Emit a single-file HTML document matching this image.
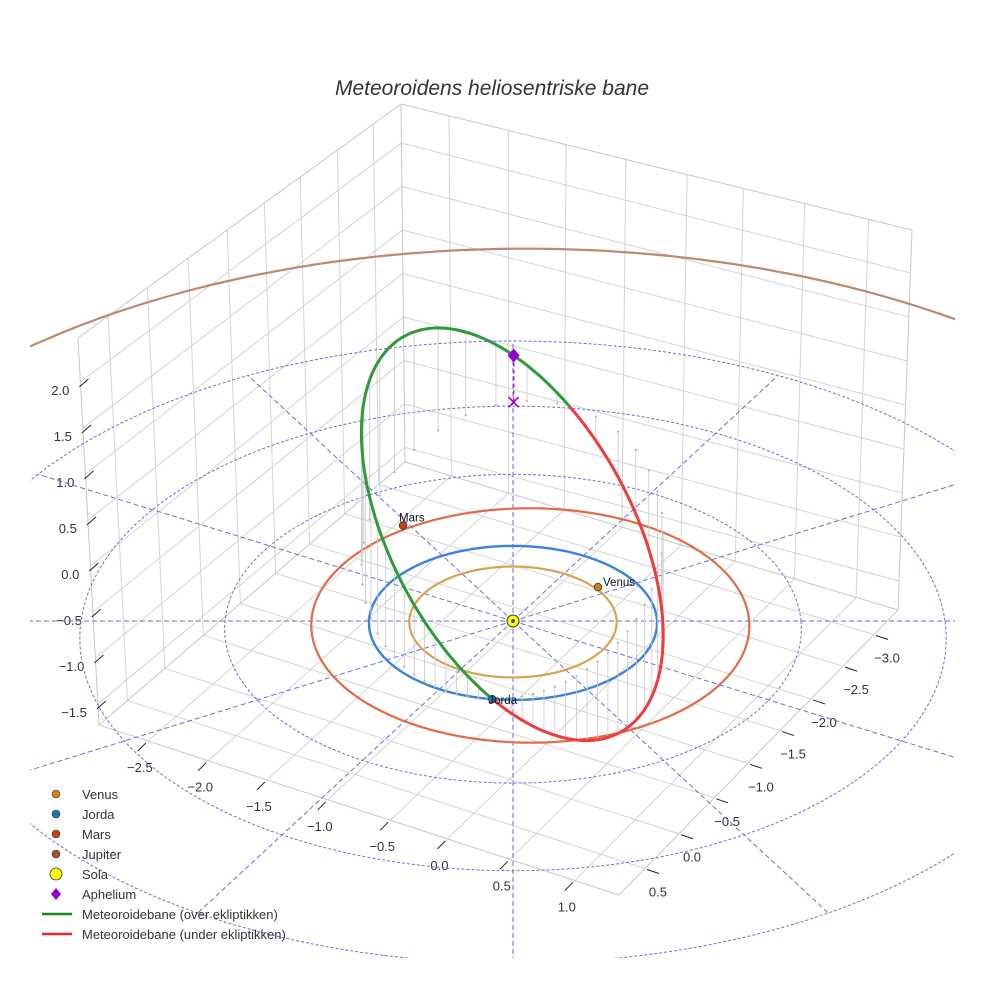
<!DOCTYPE html>
<html><head><meta charset="utf-8">
<style>
html,body{margin:0;padding:0;background:#fff;width:984px;height:984px;overflow:hidden;}
svg{display:block;font-family:"Liberation Sans",sans-serif;}
</style></head>
<body>
<svg id="chart" width="984" height="984" viewBox="0 0 984 984" xmlns="http://www.w3.org/2000/svg">
<rect width="984" height="984" fill="#fff"/>
<text x="492" y="95" text-anchor="middle" font-size="21" font-style="italic" fill="#333">Meteoroidens heliosentriske bane</text>
<defs><clipPath id="clip"><rect x="30" y="0" width="925" height="958"/></clipPath></defs>
<g id="box"></g>
<g id="ticks"></g>
<g id="plot" clip-path="url(#clip)"></g>
<g id="legend"></g>
</svg>
<script>
// ---- data ----
const xTickLabels=['−2.5','−2.0','−1.5','−1.0','−0.5','0.0','0.5','1.0'];
const yTickLabels=['−3.0','−2.5','−2.0','−1.5','−1.0','−0.5','0.0','0.5'];
const zTickLabels=['2.0','1.5','1.0','0.5','0.0','−0.5','−1.0','−1.5'];
const planetNames=['Venus','Jorda','Mars'];
const planetX=[0.597,-0.14,-0.788];
const planetY=[0.446,-0.99,1.28];
const planetColors=['#c8820e','#1f77b4','#c8400c'];
const orbitNames=['Venus','Jorda','Mars','Jupiter'];
const orbitRadii=[0.72,1.0,1.52,5.3];
const orbitCenterX=[0,0,0.12,0.1];
const orbitCenterY=[0,0,0,0.2];
const orbitColors=['#d8a24e','#3b82dc','#e36a48','#bc8a6e'];
const gridRings=[2,3,4];
const gridAngles=[0,30,60,90,120,150,180,210,240,270,300,330];
const meteorA=[2.05];
const meteorE=[0.517];
const meteorIncl=[53];
const meteorNodeAngle=[82];
const meteorAphelionAngle=[13];

const NS='http://www.w3.org/2000/svg';
const C=0.025;
function proj(x,y,z){const f=1/(1+C*y);return [513+144*x*f,621-77*y*f-90*z*f];}
function mk(tag,attrs,parent){const e=document.createElementNS(NS,tag);for(const k in attrs)e.setAttribute(k,attrs[k]);parent.appendChild(e);return e;}
const box=document.getElementById('box'),ticks=document.getElementById('ticks'),plot=document.getElementById('plot'),legend=document.getElementById('legend');

// ---- box geometry ----
const Bt=[401,104],Bb=[405,462],Lt=[78,338],Lb=[99,725],Rt=[912,230],Rb=[898,610],Fb=[619,895];
function lerp(a,b,t){return [a[0]+(b[0]-a[0])*t,a[1]+(b[1]-a[1])*t];}
function ln(a,b,col,w,parent,name){const e=mk('line',{x1:a[0],y1:a[1],x2:b[0],y2:b[1],stroke:col,'stroke-width':w},parent);

return e;}
const gc='#d4d4d4';
const xT=[0.094,0.21,0.323,0.44,0.56,0.67,0.79,0.915];
const yT=[0.086,0.197,0.312,0.423,0.538,0.659,0.785,0.907];
for(let k=0;k<8;k++){
  const yb=143+43.5*k, yl=382+46*k, yr=273+44*k;
  const bx=401+ (yb-104)/(358)*4;
  ln([bx,yb],[78+(yl-338)/387*21,yl],gc,1,box,'left-wall-z-grid');
  ln([bx,yb],[912-(yr-230)/380*14,yr],gc,1,box,'right-wall-z-grid');
}
xT.forEach(t=>{ln(lerp(Bt,Rt,t),lerp(Bb,Rb,t),gc,1,box,'right-wall-x-grid');});
yT.forEach(t=>{ln(lerp(Bt,Lt,t),lerp(Bb,Lb,t),gc,1,box,'left-wall-y-grid');});
xT.forEach(t=>{ln(lerp(Lb,Fb,t),lerp(Bb,Rb,t),gc,1,box,'floor-x-grid');});
yT.forEach(t=>{ln(lerp(Rb,Fb,t),lerp(Bb,Lb,t),gc,1,box,'floor-y-grid');});
[[Bt,Lt],[Bt,Rt],[Bt,Bb],[Lt,Lb],[Rt,Rb],[Lb,Fb],[Rb,Fb],[Bb,Lb],[Bb,Rb]].forEach(p=>ln(p[0],p[1],'#c8c8c8',1,box,'box-edge'));
// ticks
xT.forEach((t,i)=>{const p=lerp(Lb,Fb,t);ln([p[0]-2,p[1]+2],[p[0]-10,p[1]+10],'#222',1,ticks,'x-tick');
 const tx=mk('text',{x:p[0]-8,y:p[1]+31,'text-anchor':'middle','font-size':13,fill:'#333'},ticks);tx.textContent=xTickLabels[i];
 
 });
yT.forEach((t,i)=>{const p=lerp(Rb,Fb,t);ln([p[0]+2,p[1]+1],[p[0]+14,p[1]+5],'#222',1,ticks,'y-tick');
 const tx=mk('text',{x:p[0]+13,y:p[1]+28,'text-anchor':'middle','font-size':13,fill:'#333'},ticks);tx.textContent=yTickLabels[i];
 
 });
zTickLabels.forEach((s,k)=>{const yl=382+46*k;const xl=78+(yl-338)/387*21;
 ln([xl-1,yl+5],[xl+8,yl-3],'#222',1,ticks,'z-tick');
 const tx=mk('text',{x:xl-11,y:yl+13,'text-anchor':'end','font-size':13,fill:'#333'},ticks);tx.textContent=s;
 
 });

// ---- ecliptic grid ----
function pathFrom(pts){return 'M'+pts.map(p=>p[0].toFixed(1)+','+p[1].toFixed(1)).join('L');}
gridRings.forEach(r=>{const pts=[];for(let a=0;a<=360;a+=2){const t=a*Math.PI/180;pts.push(proj(r*Math.cos(t),r*Math.sin(t),0));}
 const e=mk('path',{d:pathFrom(pts),fill:'none',stroke:'#6b6bec','stroke-width':1,'stroke-dasharray':'3,2'},plot);
 
 });
gridAngles.forEach(a=>{const t=a*Math.PI/180;const p=[];for(let r=0;r<=4.001;r+=0.25)p.push(proj(r*Math.cos(t),r*Math.sin(t),0));
 const e=mk('path',{d:pathFrom(p),fill:'none',stroke:'#6b6bec','stroke-width':1,'stroke-dasharray':'5,3'},plot);
 
 });

// ---- planet orbits ----
orbitRadii.forEach((r,i)=>{const pts=[];for(let a=0;a<=360;a+=1){const t=a*Math.PI/180;pts.push(proj(orbitCenterX[i]+r*Math.cos(t),orbitCenterY[i]+r*Math.sin(t),0));}
 const e=mk('path',{d:pathFrom(pts),fill:'none',stroke:orbitColors[i],'stroke-width':i==1?2.4:2.2},plot);
 
 });

// ---- meteoroid orbit ----
const a=meteorA[0],ecc=meteorE[0],inc=meteorIncl[0]*Math.PI/180,na=meteorNodeAngle[0]*Math.PI/180,phA=meteorAphelionAngle[0];
const n=[Math.cos(na),Math.sin(na),0];
const m=[-Math.sin(na)*Math.cos(inc),Math.cos(na)*Math.cos(inc),Math.sin(inc)];
const ell=a*(1-ecc*ecc);
function orbitPt(phDeg){const nu=(phDeg-(phA+180))*Math.PI/180;const r=ell/(1+ecc*Math.cos(nu));const ph=phDeg*Math.PI/180;
 const p=r*Math.cos(ph),s=r*Math.sin(ph);return [p*n[0]+s*m[0],p*n[1]+s*m[1],s*m[2]];}
for(let ph=3;ph<360;ph+=7){const q=orbitPt(ph);const a1=proj(q[0],q[1],q[2]),a0=proj(q[0],q[1],0);
 ln(a1,a0,'#c8c8c8',0.8,plot,'drop-line');
 const d=mk('circle',{cx:a0[0],cy:a0[1],r:1.2,fill:'#bbb'},plot);
 
 }
const above=[],below=[];
for(let ph=0;ph<=180;ph+=1){const q=orbitPt(ph);above.push(proj(q[0],q[1],q[2]));}
for(let ph=180;ph<=360;ph+=1){const q=orbitPt(ph);below.push(proj(q[0],q[1],q[2]));}
let e1=mk('path',{d:pathFrom(below),fill:'none',stroke:'#ef3b3b','stroke-width':3},plot);


let e2=mk('path',{d:pathFrom(above),fill:'none',stroke:'#2f9a3a','stroke-width':3},plot);



const aq=orbitPt(phA);const ap=proj(aq[0],aq[1],aq[2]),ap0=proj(aq[0],aq[1],0);
const dl=mk('line',{x1:ap[0],y1:ap[1],x2:ap0[0],y2:ap0[1],stroke:'#9b1fc0','stroke-width':1.5,'stroke-dasharray':'4,3'},plot);


const xm=mk('path',{d:`M${ap0[0]-5},${ap0[1]-5}L${ap0[0]+5},${ap0[1]+5}M${ap0[0]+5},${ap0[1]-5}L${ap0[0]-5},${ap0[1]+5}`,stroke:'#9400d3','stroke-width':1.5},plot);


const dm=mk('path',{d:`M${ap[0]},${ap[1]-7}L${ap[0]+6},${ap[1]}L${ap[0]},${ap[1]+7}L${ap[0]-6},${ap[1]}Z`,fill:'#9400d3'},plot);



const sp=proj(0,0,0);
const sun=mk('circle',{cx:sp[0],cy:sp[1],r:6,fill:'#ffff00',stroke:'#333','stroke-width':1},plot);


const sc=mk('circle',{cx:sp[0],cy:sp[1],r:2,fill:'#4a4ad0'},plot);



planetNames.forEach((nm,i)=>{const p=proj(planetX[i],planetY[i],0);
 const c=mk('circle',{cx:p[0],cy:p[1],r:3.8,fill:planetColors[i],stroke:'#333','stroke-width':0.8},plot);
 
 
 const t=mk('text',{x:p[0]+(i==0?5:-4),y:p[1]+(i==0?-1:(i==1?5:-4)),'font-size':11.5,fill:'#111'},plot);t.textContent=nm;
 
 });

// ---- legend ----
const legNames=['Venus','Jorda','Mars','Jupiter','Sola','Aphelium','Meteoroidebane (over ekliptikken)','Meteoroidebane (under ekliptikken)'];
const legColors=['#c8820e','#1f77b4','#c8400c','#a0522d','#ffff00','#9400d3','#1a8a1a','#ee2222'];
legNames.forEach((nm,i)=>{const y=794+20*i;const g=mk('g',{},legend);
 
 
 if(i<4) mk('circle',{cx:56,cy:y,r:4,fill:legColors[i],stroke:'#333','stroke-width':0.6},g);
 else if(i==4) mk('circle',{cx:56,cy:y,r:6,fill:legColors[i],stroke:'#333','stroke-width':0.8},g);
 else if(i==5) mk('path',{d:`M56,${y-6}L61,${y}L56,${y+6}L51,${y}Z`,fill:legColors[i]},g);
 else mk('line',{x1:42,y1:y,x2:72,y2:y,stroke:legColors[i],'stroke-width':2.5},g);
 const t=mk('text',{x:82,y:y+5,'font-size':13,fill:'#333'},g);t.textContent=nm;});
</script>
</body></html>
